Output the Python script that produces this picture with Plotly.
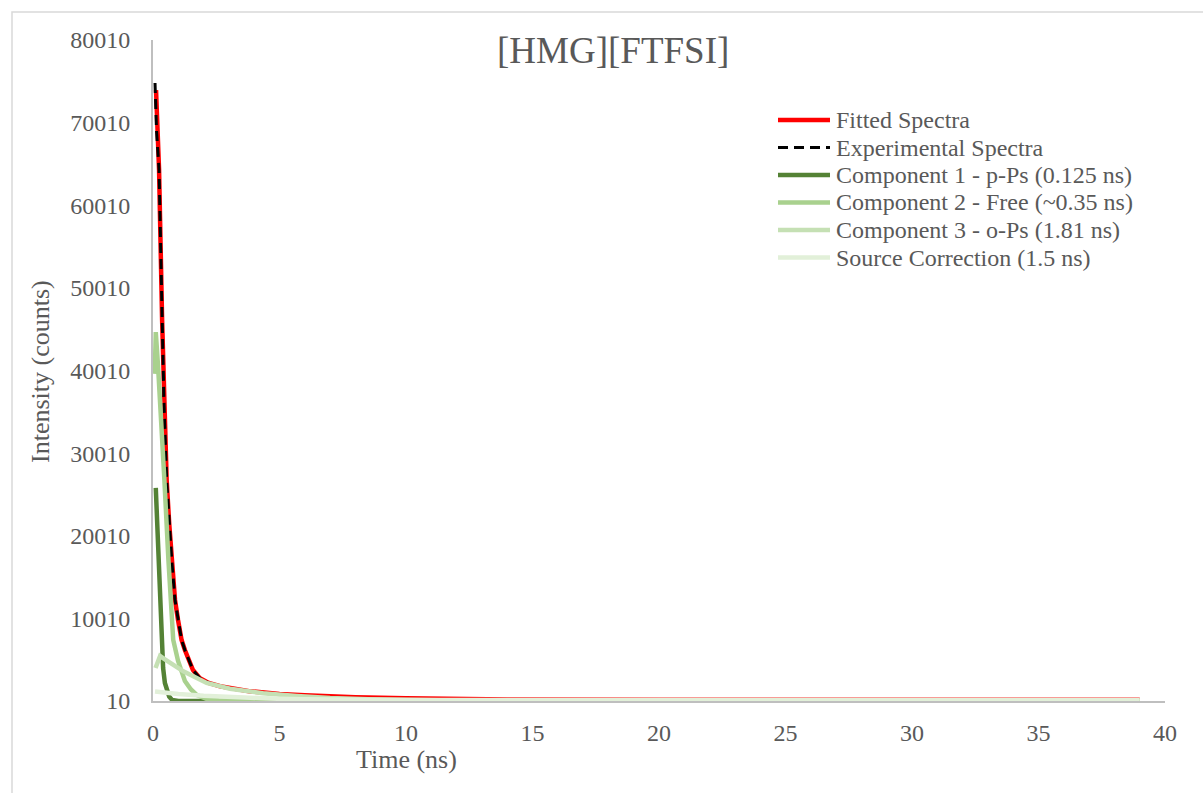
import plotly.graph_objects as go

# Positron lifetime spectrum of [HMG][FTFSI]: fitted curve, measured curve and fit components
t_fit = [0.12, 0.24, 0.36, 0.43, 0.54, 0.64, 0.74, 0.87, 0.99, 1.13, 1.26, 1.58, 1.86, 2.2, 2.65,
         3.2, 3.8, 4.5, 5.0, 6.0, 7.0, 8.0, 10, 14, 20, 30, 39]
v_fit = [73950, 64270, 46120, 36440, 26750, 21500, 17070, 12230, 9810, 7390, 6180, 3760, 2750,
         2200, 1800, 1450, 1200, 1000, 850, 700, 560, 450, 330, 200, 160, 150, 150]

t_exp = [0.08, 0.14, 0.24, 0.36, 0.43, 0.54, 0.64, 0.74, 0.87, 0.99, 1.13, 1.26, 1.58, 1.86, 2.2,
         2.65, 3.0]
v_exp = [74800, 69000, 64270, 46120, 36440, 26750, 21500, 17070, 12230, 9810, 7390, 6180, 3760,
         2750, 2200, 1800, 1600]

t_c1 = [0.11, 0.17, 0.23, 0.29, 0.34, 0.40, 0.47, 0.54, 0.64, 0.75, 1.0, 39]
v_c1 = [25800, 21100, 16500, 11800, 7400, 4000, 2200, 1300, 550, 150, 10, 10]

t_c2 = [0.07, 0.11, 0.2, 0.3, 0.45, 0.61, 0.74, 0.80, 0.99, 1.26, 1.5, 1.74, 2.13, 2.6, 3.5, 5, 39]
v_c2 = [39600, 44650, 40500, 35500, 26750, 17070, 9810, 7390, 4860, 2430, 1400, 730, 250, 80, 20,
        10, 10]

t_c3 = [0.1, 0.28, 0.5, 0.8, 1.2, 1.73, 2.12, 3.04, 4.35, 5.68, 7.0, 8.5, 10, 12, 15, 20, 30, 39]
v_c3 = [4000, 5450, 5000, 4350, 3600, 2800, 2200, 1500, 940, 610, 360, 220, 140, 80, 40, 15, 10, 10]

t_src = [0.08, 0.5, 1.0, 2.0, 3.0, 4.0, 5.0, 6.0, 8.0, 10, 15, 39]
v_src = [1150, 1000, 850, 650, 480, 360, 270, 210, 150, 130, 120, 120]

series = [
    ("Fitted Spectra", t_fit, v_fit, "#FF0000", 4.5, "solid"),
    ("Experimental Spectra", t_exp, v_exp, "#000000", 3, "10px,6px"),
    ("Component 1 - p-Ps (0.125 ns)", t_c1, v_c1, "#548235", 4.5, "solid"),
    ("Component 2 - Free (~0.35 ns)", t_c2, v_c2, "#A9D18E", 4.5, "solid"),
    ("Component 3 - o-Ps (1.81 ns)", t_c3, v_c3, "#C5E0B4", 4.5, "solid"),
    ("Source Correction (1.5 ns)", t_src, v_src, "#E2F0D9", 4.5, "solid"),
]

FONT = "Liberation Serif"
GREY = "#595959"

fig = go.Figure()
for name, tx, vy, color, width, dash in series:
    fig.add_trace(go.Scatter(x=tx, y=vy, mode="lines", name=name, showlegend=False,
                             line=dict(color=color, width=width, dash=dash)))

L, R, T, B = 153, 38, 40, 92
W, H = 1203, 793
pw, ph = W - L - R, H - T - B


def px(x):
    return (x - L) / pw


def py(y):
    return (H - B - y) / ph


shapes = [dict(type="rect", xref="paper", yref="paper",
               x0=px(12), x1=px(1215), y0=py(805), y1=py(12),
               line=dict(color="#D9D9D9", width=1.5), fillcolor="rgba(0,0,0,0)", layer="below")]
annotations = [
    dict(text="[HMG][FTFSI]", xref="paper", yref="paper", x=px(613), y=py(50),
         xanchor="center", yanchor="middle",
         showarrow=False, font=dict(size=37, family=FONT, color=GREY)),
    dict(text="Time (ns)", xref="paper", yref="paper", x=px(406), y=py(759),
         xanchor="center", yanchor="middle",
         showarrow=False, font=dict(size=26, family=FONT, color=GREY)),
    dict(text="Intensity (counts)", xref="paper", yref="paper", x=px(40), y=py(372),
         xanchor="center", yanchor="middle",
         showarrow=False, textangle=-90, font=dict(size=26, family=FONT, color=GREY)),
]

# legend drawn as line samples with labels beside them
row0, row_gap = 120, 27.5
for i, (name, _, _, color, width, dash) in enumerate(series):
    yy = py(row0 + i * row_gap)
    shapes.append(dict(type="line", xref="paper", yref="paper",
                       x0=px(778), x1=px(830), y0=yy, y1=yy,
                       line=dict(color=color, width=width, dash=dash)))
    annotations.append(dict(text=name, xref="paper", yref="paper", x=px(834), y=yy,
                            xanchor="left", yanchor="middle", showarrow=False,
                            font=dict(size=24, family=FONT, color=GREY)))

fig.update_layout(
    width=W, height=H,
    margin=dict(l=L, r=R, t=T, b=B),
    paper_bgcolor="white", plot_bgcolor="white",
    font=dict(family=FONT, color=GREY),
    showlegend=False,
    xaxis=dict(range=[0, 40], dtick=5, tick0=0, showgrid=False, zeroline=False,
               showline=True, linecolor="#BFBFBF", linewidth=2, ticks="",
               tickfont=dict(size=24, family=FONT, color=GREY), ticklabelstandoff=9),
    yaxis=dict(range=[10, 80010], dtick=10000, tick0=10, tickformat="d",
               showgrid=False, zeroline=False,
               showline=True, linecolor="#BFBFBF", linewidth=2, ticks="",
               tickfont=dict(size=24, family=FONT, color=GREY), ticklabelstandoff=16),
    shapes=shapes,
    annotations=annotations,
)

fig.write_html("out.html")
